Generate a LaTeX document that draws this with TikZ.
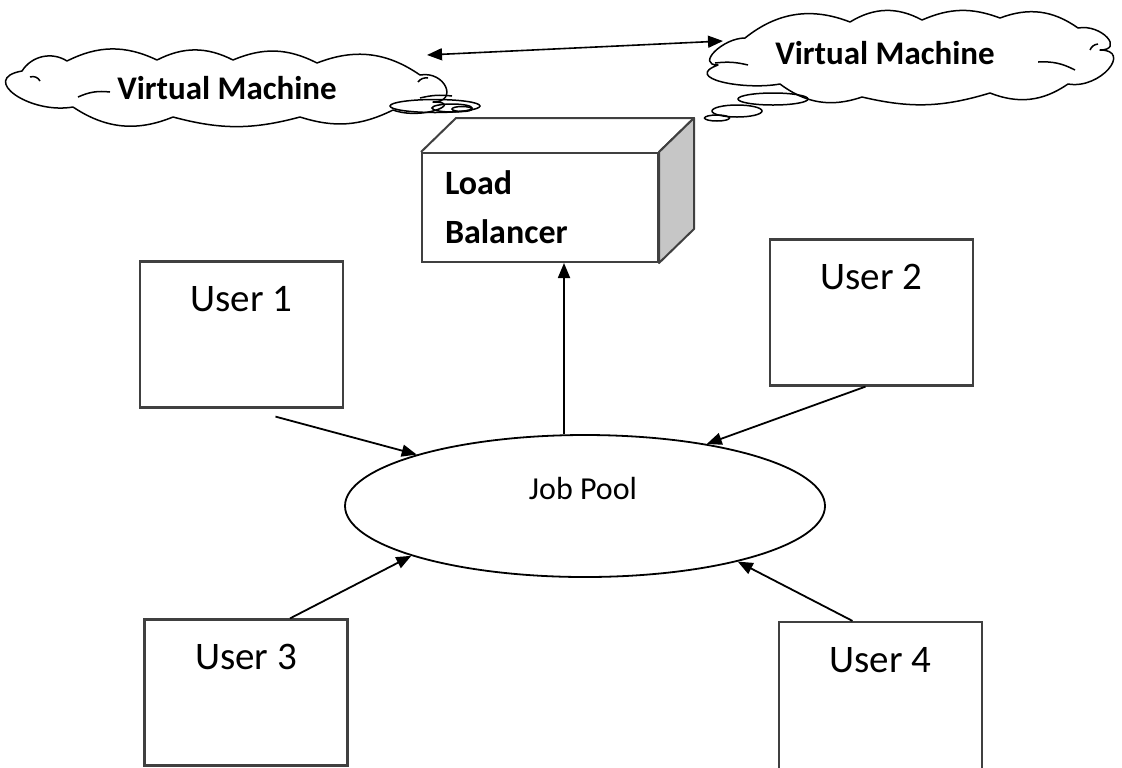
\documentclass[tikz,border=0pt]{standalone}
\usepackage{fontspec}
\setmainfont{Carlito}
\usetikzlibrary{shapes.geometric, arrows.meta}

\begin{document}
\begin{tikzpicture}[x=0.5pt, y=-0.5pt]
    % settings for this picture
    \tikzset{
      >={Triangle[length=7.5pt, width=6pt]},
      flow/.style={->, line width=0.9pt},
      cloudline/.style={draw, line width=0.75pt, line join=round},
      bubble/.style={ellipse, draw, line width=0.75pt, inner sep=0pt},
      vmtext/.style={font=\fontsize{16.5}{20}\selectfont\bfseries},
      lbox/.style={draw=black!75, line width=1pt, fill=white,
        minimum width=118pt, minimum height=54.5pt, text width=95pt,
        align=left, inner xsep=11.5pt, inner ysep=0pt,
        font=\fontsize{17}{24.5}\selectfont\bfseries},
      lbface/.style={draw=black!75, line width=1pt, line join=round},
      userbox/.style={draw=black!75, line width=1.1pt, minimum width=101.5pt,
        minimum height=73pt, inner sep=0pt},
      userlabel/.style={anchor=center, yshift=-19.5pt,
        font=\fontsize{19.5}{24}\selectfont},
      jobpool/.style={ellipse, draw, line width=0.9pt, minimum width=240pt,
        minimum height=71pt, inner sep=0pt},
    }
    \useasboundingbox (0,0) rectangle (1122,767);

    % left cloud
    \draw[cloudline] (73,107) to[out=190, in=190, looseness=1.8] (22,71)
      to[bend left=45] (67,61) to[bend left=26] (157,60) to[bend left=27] (233,60)
      to[bend left=25] (317,63) to[bend left=28] (420,75)
      to[out=10, in=0, looseness=2.2] (433,102) to[out=0, in=-20, looseness=2] (393,110)
      to[bend left=22] (300,117) to[bend left=15] (173,117) to[bend left=28] (73,107);
    \draw[cloudline] (30,77) to[bend left=40] (40,81);
    \draw[cloudline] (78,97) to[bend left=15] (110,92);
    \draw[cloudline] (418,82) to[bend left=30] (428,78);
    \draw[cloudline] (420,98) to[bend left=10] (452,96);
    \node[vmtext] (vmlefttext) at (227,88) {Virtual Machine};
    \node[bubble, minimum width=45pt, minimum height=6.5pt] (lbub1) at (435,106) {};
    \node[bubble, minimum width=20pt, minimum height=4pt] (lbub2) at (452,108) {};
    \node[bubble, minimum width=10pt, minimum height=2.5pt] (lbub3) at (462,109) {};

    % right cloud
    \draw[cloudline] (745,38) to[bend left=30] (850,22) to[bend left=30] (922,20)
      to[bend left=22] (1000,18) to[bend left=28] (1078,28)
      to[out=10, in=0, looseness=2] (1100,50) to[out=0, in=-10, looseness=1.8] (1068,84)
      to[bend left=28] (990,93) to[bend left=15] (862,97) to[bend left=28] (780,84)
      to[out=190, in=200, looseness=1.5] (718,65) to[out=180, in=180, looseness=1.5] (745,38);
    \draw[cloudline] (1038,62) to[bend left=15] (1075,70);
    \draw[cloudline] (1090,50) to[bend left=30] (1098,44);
    \draw[cloudline] (715,63) to[bend left=10] (748,65);
    \node[vmtext] (vmrighttext) at (885,53) {Virtual Machine};
    \node[bubble, minimum width=35pt, minimum height=6pt] (rbub1) at (773,99) {};
    \node[bubble, minimum width=25pt, minimum height=6pt] (rbub2) at (737,111) {};
    \node[bubble, minimum width=12.5pt, minimum height=3pt] (rbub3) at (717,118) {};

    % load balancer
    \node[lbox] (lb) at (540,207.5) {Load\\Balancer};
    \draw[lbface] (lb.north west) -- ++(35,-34) -- ([shift={(35,-34)}]lb.north east)
      -- (lb.north east);
    \draw[lbface, fill=gray!45] (lb.north east) -- ++(35,-34)
      -- ([shift={(35,-34)}]lb.south east) -- (lb.south east) -- cycle;

    % users and job pool
    \node[userbox, label={[userlabel]north:User 1}] (user1) at (241.5,334.5) {};
    \node[userbox, label={[userlabel]north:User 2}] (user2) at (871.5,312.5) {};
    \node[userbox, label={[userlabel]north:User 3}] (user3) at (246,692.5) {};
    \node[userbox, minimum height=76pt, label={[userlabel]north:User 4}] (user4) at (880.5,698) {};

    \node[jobpool] (pool) at (585,506) {};
    \node[font=\fontsize{16}{20}\selectfont] (pooltext) at (583,488) {Job Pool};

    % arrows
    \coordinate (poolup) at ([xshift=-10.5pt]pool.north);
    \draw[flow] (poolup) -- (poolup |- lb.south);
    \draw[flow] ([xshift=17pt, yshift=-4pt]user1.south) -- (pool.163);
    \draw[flow] ([xshift=-3pt]user2.south) -- (pool.27);
    \draw[flow] ([xshift=22pt]user3.north) -- (pool.196);
    \draw[flow] ([xshift=-14pt]user4.north) -- (pool.340);
    \coordinate (vmleftend) at (427,55);
    \coordinate (vmrightend) at (723,41);
    \draw[<->, line width=0.8pt] (vmleftend) -- (vmrightend);

  \end{tikzpicture}
\end{document}
